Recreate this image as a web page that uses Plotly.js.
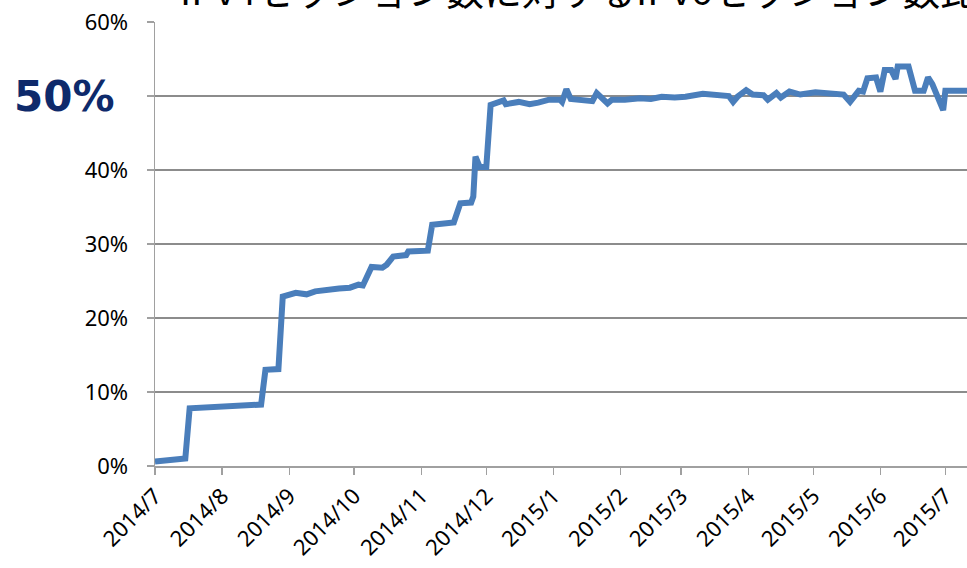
<!DOCTYPE html>
<html>
<head>
<meta charset="utf-8">
<script src="https://cdn.plot.ly/plotly-3.0.1.min.js"></script>
<style>html,body{margin:0;padding:0;background:#fff;}#chart{width:967px;height:568px;}</style>
</head>
<body>
<div id="chart"></div>
<script>
const chartTitle = "IPv4セッション数に対するIPv6セッション数比率";
const highlightLabel = "50%";

const dates = [
  "2014-07-01","2014-07-08","2014-07-15","2014-07-17","2014-07-24","2014-07-30","2014-08-05","2014-08-18","2014-08-19","2014-08-21",
  "2014-08-26","2014-08-27","2014-08-29","2014-09-01","2014-09-04","2014-09-09","2014-09-13","2014-09-24",
  "2014-09-29","2014-10-03","2014-10-05","2014-10-09","2014-10-14","2014-10-16","2014-10-19","2014-10-25",
  "2014-10-26","2014-11-04","2014-11-06","2014-11-16","2014-11-19","2014-11-24","2014-11-25","2014-11-26",
  "2014-11-28","2014-12-01","2014-12-03","2014-12-09","2014-12-10","2014-12-16","2014-12-21","2014-12-25",
  "2014-12-30","2015-01-04","2015-01-05","2015-01-07","2015-01-09","2015-01-19","2015-01-21","2015-01-26",
  "2015-01-28","2015-02-03","2015-02-10","2015-02-15","2015-02-20","2015-02-26","2015-03-03","2015-03-11","2015-03-19","2015-03-23","2015-03-25",
  "2015-03-27","2015-03-31","2015-04-03","2015-04-08","2015-04-10","2015-04-14","2015-04-16","2015-04-20",
  "2015-04-25","2015-05-02","2015-05-10","2015-05-15","2015-05-18","2015-05-22","2015-05-24","2015-05-26",
  "2015-05-30","2015-06-01","2015-06-03","2015-06-06","2015-06-08","2015-06-09","2015-06-14","2015-06-17",
  "2015-06-21","2015-06-23","2015-06-25","2015-06-27","2015-06-28","2015-06-30","2015-07-01","2015-07-11"
];
const ratio = [
  0.6,0.8,1.0,7.8,7.9,8.0,8.0,8.2,8.3,13.0,
  13.0,13.1,22.9,23.1,23.4,23.2,23.6,24.0,
  24.1,24.5,24.4,26.9,26.8,27.2,28.3,28.5,
  29.0,29.1,32.6,32.9,35.5,35.6,36.4,41.8,
  40.4,40.4,48.8,49.4,48.9,49.2,48.9,49.1,
  49.5,49.5,49.2,50.9,49.6,49.3,50.4,49.0,
  49.5,49.5,49.7,49.6,49.9,49.8,49.9,50.3,50.0,50.0,49.2,
  49.9,50.8,50.2,50.1,49.5,50.4,49.8,50.6,
  50.2,50.5,50.2,50.2,49.2,50.7,50.6,52.4,
  52.5,50.6,53.5,53.5,52.3,54.0,54.0,50.7,
  50.7,52.5,51.6,50.1,49.9,48.1,50.7,50.7
];

const tickDates = ["2014-07-01","2014-08-01","2014-09-01","2014-10-01","2014-11-01","2014-12-01",
  "2015-01-01","2015-02-01","2015-03-01","2015-04-01","2015-05-01","2015-06-01","2015-07-01"];
const tickLabels = ["2014/7","2014/8","2014/9","2014/10","2014/11","2014/12",
  "2015/1","2015/2","2015/3","2015/4","2015/5","2015/6","2015/7"];
const yTicks = [0,10,20,30,40,50,60];
const yTickLabels = ["0%","10%","20%","30%","40%","","60%"];

const trace = {
  x: dates, y: ratio, type: "scatter", mode: "lines",
  line: {color: "#4a7ebb", width: 6, shape: "linear"},
  hoverinfo: "skip"
};

const layout = {
  width: 967, height: 568,
  margin: {l: 155, r: 0, t: 22, b: 102, pad: 0},
  paper_bgcolor: "#ffffff", plot_bgcolor: "#ffffff",
  showlegend: false,
  font: {family: "Noto Sans, DejaVu Sans, sans-serif", color: "#000000", size: 22},
  xaxis: {
    type: "date",
    range: ["2014-07-01", "2015-07-11"],
    tickmode: "array", tickvals: tickDates, ticktext: tickLabels,
    tickangle: -45, ticks: "outside", ticklen: 7, tickwidth: 1.5, tickcolor: "#a0a0a0",
    showgrid: false, showline: true, linecolor: "#a0a0a0", linewidth: 1.5,
    zeroline: false, fixedrange: true,
    tickfont: {size: 22, color: "#000000"}
  },
  yaxis: {
    range: [0, 60],
    tickmode: "array", tickvals: yTicks, ticktext: yTickLabels,
    ticks: "outside", ticklen: 7, tickwidth: 1.5, tickcolor: "#a0a0a0",
    ticklabelstandoff: 14,
    showgrid: true, gridcolor: "#8c8c8c", gridwidth: 1.5,
    showline: true, linecolor: "#a0a0a0", linewidth: 1.5,
    zeroline: false, fixedrange: true,
    tickfont: {size: 22, color: "#000000"}
  },
  annotations: [{
    text: chartTitle,
    xref: "paper", yref: "paper",
    x: 0.0283, y: 1.009, xanchor: "left", yanchor: "bottom",
    showarrow: false,
    font: {family: "Noto Sans CJK JP, sans-serif", size: 38, color: "#000000"}
  }, {
    text: "<b>" + highlightLabel + "</b>",
    xref: "paper", yref: "y",
    x: -0.112, y: 50, xanchor: "center", yanchor: "middle",
    showarrow: false,
    font: {family: "DejaVu Sans, Verdana, sans-serif", size: 42, color: "#0e2a6b"}
  }]
};

Plotly.newPlot("chart", [trace], layout, {staticPlot: true, displayModeBar: false});
</script>
</body>
</html>
